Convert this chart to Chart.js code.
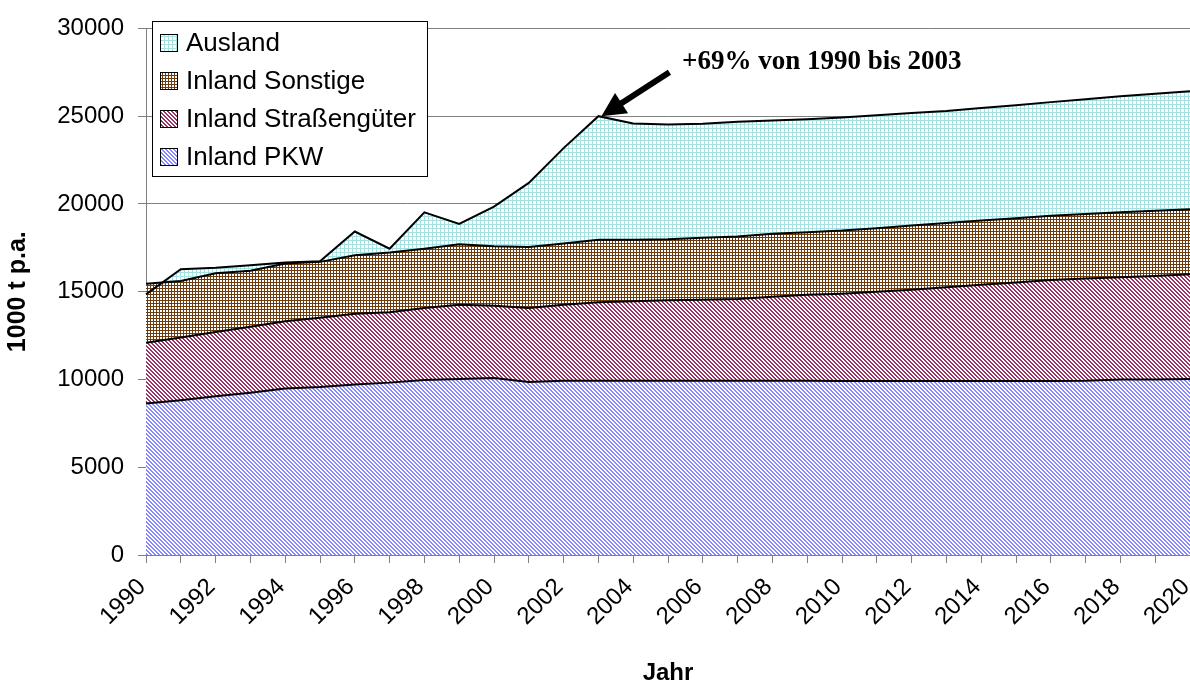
<!DOCTYPE html>
<html>
<head>
<meta charset="utf-8">
<script src="https://cdn.jsdelivr.net/npm/chart.js@4.4.0/dist/chart.umd.min.js"></script>
<style>
  html, body { margin: 0; padding: 0; background: #fff; }
  #chart { display: block; }
</style>
</head>
<body>
<canvas id="chart" width="1190" height="688"></canvas>
<script>
// Jahre 1990 - 2020
const years = ["1990", "1991", "1992", "1993", "1994", "1995", "1996", "1997", "1998", "1999",
               "2000", "2001", "2002", "2003", "2004", "2005", "2006", "2007", "2008", "2009",
               "2010", "2011", "2012", "2013", "2014", "2015", "2016", "2017", "2018", "2019", "2020"];

// 1000 t p.a., gestapelt
const inlandPkw = [8630, 8820, 9050, 9250, 9480, 9570, 9720, 9820, 9970, 10020,
                   10080, 9850, 9920, 9920, 9920, 9920, 9920, 9920, 9920, 9920,
                   9910, 9910, 9910, 9910, 9910, 9910, 9910, 9920, 10000, 10000, 10020];
const inlandStrasse = [3460, 3570, 3650, 3750, 3840, 3940, 4020, 4010, 4105, 4240,
                       4120, 4225, 4330, 4480, 4530, 4590, 4620, 4660, 4790, 4900,
                       4980, 5090, 5200, 5340, 5480, 5620, 5760, 5830, 5820, 5900, 5970];
const inlandSonstige = [3360, 3220, 3345, 3200, 3290, 3190, 3340, 3400, 3375, 3440,
                        3390, 3475, 3500, 3560, 3510, 3480, 3530, 3570, 3590, 3570,
                        3590, 3620, 3660, 3660, 3660, 3660, 3660, 3680, 3700, 3710, 3710];
const ausland = [-600, 670, 325, 310, 50, 40, 1350, 220, 2070, 1160,
                 2260, 3650, 5430, 7040, 6620, 6540, 6500, 6530, 6450, 6440,
                 6440, 6430, 6410, 6390, 6420, 6430, 6470, 6540, 6620, 6670, 6720];

const yTicks = [0, 5000, 10000, 15000, 20000, 25000, 30000];
const peakYear = "2003";
const noteText = "+69% von 1990 bis 2003";

// Schraffuren wie im Excel-Diagramm
function makePattern(size, color, isOn) {
    const c = document.createElement("canvas");
    c.width = size; c.height = size;
    const g = c.getContext("2d");
    g.fillStyle = "#fff";
    g.fillRect(0, 0, size, size);
    g.fillStyle = color;
    for (let y = 0; y < size; y++) {
        for (let x = 0; x < size; x++) {
            if (isOn(x, y, size)) g.fillRect(x, y, 1, 1);
        }
    }
    return g.createPattern(c, "repeat");
}
const grid = (x, y) => x === 0 || y === 0;
const diag = (x, y, s) => ((x - y + s) % s) < 2;

const fillPkw = makePattern(4, "#8a8aff", diag);
const fillStrasse = makePattern(4, "#993366", diag);
const fillSonstige = makePattern(3, "#6e3c0c", grid);
const fillAusland = makePattern(4, "#a6e2e2", grid);

const series = [
    { label: "Inland PKW", data: inlandPkw, fill: fillPkw, target: "origin" },
    { label: "Inland Straßengüter", data: inlandStrasse, fill: fillStrasse, target: "-1" },
    { label: "Inland Sonstige", data: inlandSonstige, fill: fillSonstige, target: "-1" },
    { label: "Ausland", data: ausland, fill: fillAusland, target: "-1" }
];

const legendBox = {
    id: "legendBox",
    afterDraw(chart) {
        const ctx = chart.ctx;
        ctx.save();
        ctx.fillStyle = "#fff";
        ctx.fillRect(152, 21, 275, 155);
        ctx.strokeStyle = "#000";
        ctx.lineWidth = 1;
        ctx.strokeRect(152.5, 21.5, 275, 155);
        ctx.font = '26px "Liberation Sans", Arial, sans-serif';
        ctx.textBaseline = "middle";
        ctx.textAlign = "left";
        series.slice().reverse().forEach((s, i) => {
            const cy = 43 + i * 38;
            ctx.fillStyle = s.fill;
            ctx.fillRect(161, cy - 8, 17, 17);
            ctx.strokeStyle = "#000";
            ctx.strokeRect(160.5, cy - 8.5, 17, 17);
            ctx.fillStyle = "#000";
            ctx.fillText(s.label, 186, cy + 1);
        });
        ctx.restore();
    }
};

const arrowNote = {
    id: "arrowNote",
    afterDraw(chart) {
        const ctx = chart.ctx;
        const i = years.indexOf(peakYear);
        const total = inlandPkw[i] + inlandStrasse[i] + inlandSonstige[i] + ausland[i];
        const tx = chart.scales.x.getPixelForValue(i) + 3;
        const ty = chart.scales.y.getPixelForValue(total);
        const sx = tx + 68, sy = ty - 44;
        const ang = Math.atan2(ty - sy, tx - sx);
        const headLen = 24, headW = 12;
        const bx = tx - headLen * Math.cos(ang), by = ty - headLen * Math.sin(ang);
        ctx.save();
        ctx.strokeStyle = "#000";
        ctx.lineWidth = 6;
        ctx.beginPath();
        ctx.moveTo(sx, sy);
        ctx.lineTo(bx + 2 * Math.cos(ang), by + 2 * Math.sin(ang));
        ctx.stroke();
        ctx.fillStyle = "#000";
        ctx.beginPath();
        ctx.moveTo(tx, ty);
        ctx.lineTo(bx + headW * Math.sin(ang), by - headW * Math.cos(ang));
        ctx.lineTo(bx - headW * Math.sin(ang), by + headW * Math.cos(ang));
        ctx.closePath();
        ctx.fill();
        ctx.font = 'bold 27px "Liberation Serif", "Times New Roman", serif';
        ctx.textBaseline = "alphabetic";
        ctx.textAlign = "left";
        ctx.fillText(noteText, 682, 69);
        ctx.restore();
    }
};

new Chart(document.getElementById("chart"), {
    type: "line",
    data: {
        labels: years,
        datasets: series.map(s => ({
            label: s.label,
            data: s.data,
            backgroundColor: s.fill,
            borderColor: "#000",
            borderWidth: 2,
            fill: s.target,
            pointRadius: 0,
            tension: 0
        }))
    },
    options: {
        responsive: false,
        animation: false,
        devicePixelRatio: 1,
        layout: { padding: { top: 22, right: 0, left: 0, bottom: 0 } },
        plugins: {
            legend: { display: false },
            tooltip: { enabled: false },
            filler: { drawTime: "beforeDatasetsDraw" }
        },
        scales: {
            x: {
                offset: false,
                grid: { drawOnChartArea: false, tickLength: 8, color: "#808080" },
                border: { color: "#808080" },
                ticks: {
                    autoSkip: false,
                    maxRotation: 45,
                    minRotation: 45,
                    padding: 10,
                    labelOffset: -4,
                    color: "#000",
                    font: { family: '"Liberation Sans", Arial, sans-serif', size: 24 },
                    callback: (v, i) => (i % 2 === 0 ? years[i] : "")
                },
                title: {
                    display: true,
                    text: "Jahr",
                    color: "#000",
                    font: { family: '"Liberation Sans", Arial, sans-serif', size: 24, weight: "bold" },
                    padding: { top: 0, bottom: 0 }
                },
                afterFit(scale) {
                    scale.height = 133;
                    scale.paddingLeft = 0;
                    scale.paddingRight = 0;
                }
            },
            y: {
                stacked: "single",
                min: 0,
                max: 30000,
                afterBuildTicks(scale) {
                    scale.ticks = yTicks.map(v => ({ value: v }));
                },
                grid: { color: "#808080", tickLength: 8 },
                border: { color: "#808080" },
                ticks: {
                    padding: 14,
                    color: "#000",
                    font: { family: '"Liberation Sans", Arial, sans-serif', size: 24 },
                    callback: v => String(v)
                },
                title: {
                    display: true,
                    text: "1000 t p.a.",
                    color: "#000",
                    font: { family: '"Liberation Sans", Arial, sans-serif', size: 25, weight: "bold" },
                    padding: { top: 3, bottom: 0 }
                },
                afterFit(scale) {
                    scale.width = 146;
                }
            }
        }
    },
    plugins: [legendBox, arrowNote]
});
</script>
</body>
</html>
